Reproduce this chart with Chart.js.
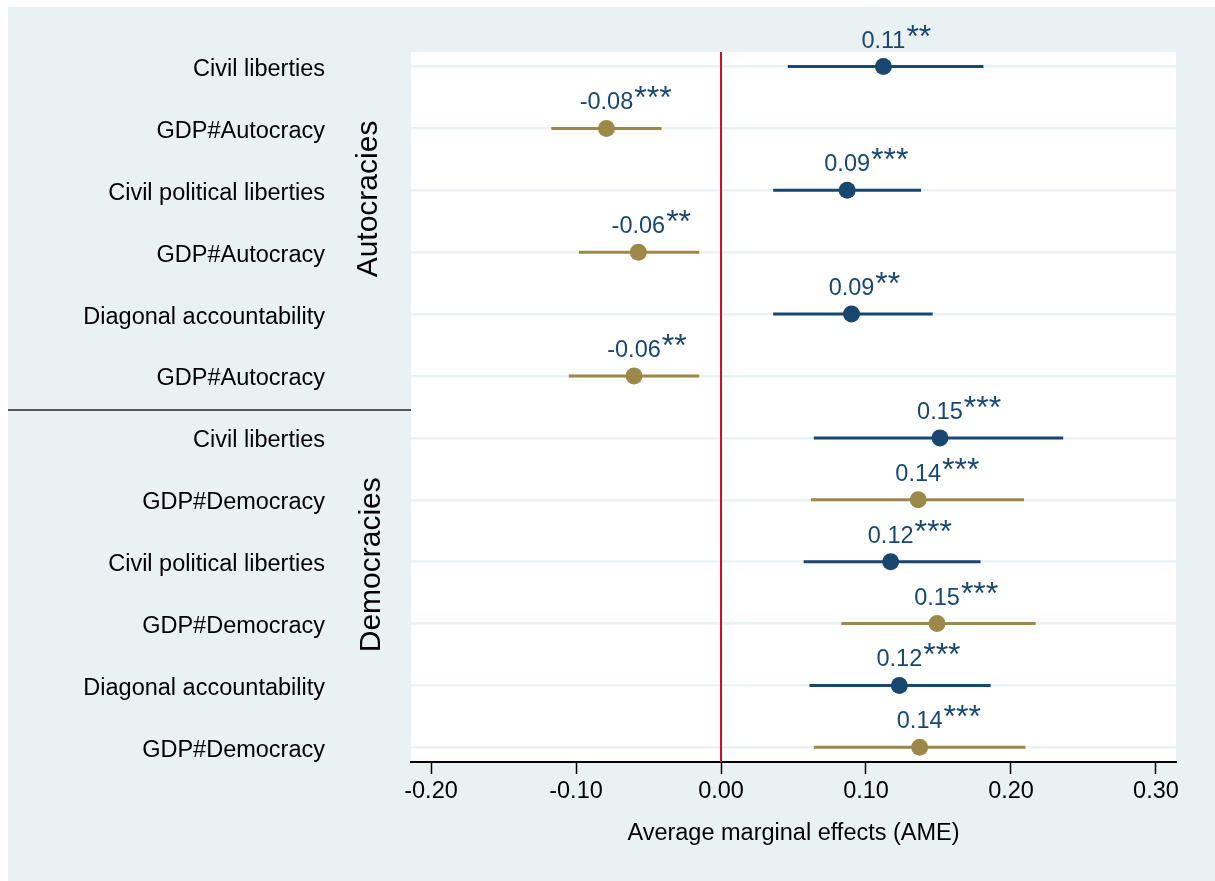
<!DOCTYPE html>
<html>
<head>
<meta charset="utf-8">
<title>Average marginal effects (AME)</title>
<script src="https://cdn.jsdelivr.net/npm/chart.js@4.4.1/dist/chart.umd.min.js"></script>
<style>
  html, body { margin: 0; padding: 0; background: #fff; }
  #chartWrap { width: 1215px; height: 881px; }
</style>
</head>
<body>
<div id="chartWrap"><canvas id="ameChart" width="1215" height="881"></canvas></div>
<script>
// rows, top to bottom
const rowLabels = [
  "Civil liberties",
  "GDP#Autocracy",
  "Civil political liberties",
  "GDP#Autocracy",
  "Diagonal accountability",
  "GDP#Autocracy",
  "Civil liberties",
  "GDP#Democracy",
  "Civil political liberties",
  "GDP#Democracy",
  "Diagonal accountability",
  "GDP#Democracy",
];

const estimates = [0.112, -0.079, 0.087, -0.057, 0.090, -0.060, 0.151, 0.136, 0.117, 0.149, 0.123, 0.137];
const lowerCI = [0.046, -0.117, 0.036, -0.098, 0.036, -0.105, 0.064, 0.062, 0.057, 0.083, 0.061, 0.064];
const upperCI = [0.181, -0.041, 0.138, -0.015, 0.146, -0.015, 0.236, 0.209, 0.179, 0.217, 0.186, 0.210];
const stars = ["**", "***", "***", "**", "**", "**", "***", "***", "***", "***", "***", "***"];
const isInteraction = [false, true, false, true, false, true, false, true, false, true, false, true];

const groupNames = ["Autocracies", "Democracies"];
const xTicks = [-0.2, -0.1, 0, 0.1, 0.2, 0.3];

const NAVY = "#1A476F";
const GOLD = "#9C8848";
const ZERO_RED = "#C8102E";
const BG = "#EAF1F3";
const FONT = '"Liberation Sans", Arial, sans-serif';

const markColor = (i) => (isInteraction[i] ? GOLD : NAVY);

// one small line per row for the confidence interval
const ciDatasets = rowLabels.map((_, i) => ({
  label: "CI " + (i + 1),
  data: [
    { x: lowerCI[i], y: i + 1 },
    { x: upperCI[i], y: i + 1 },
  ],
  showLine: true,
  borderColor: markColor(i),
  borderWidth: 3,
  pointRadius: 0,
  pointHoverRadius: 0,
  order: 2,
}));

const pointDataset = {
  label: "AME",
  data: estimates.map((v, i) => ({ x: v, y: i + 1 })),
  showLine: false,
  pointRadius: 8.5,
  pointHoverRadius: 8.5,
  pointBorderWidth: 0,
  pointBackgroundColor: rowLabels.map((_, i) => markColor(i)),
  order: 1,
};

const overlayPlugin = {
  id: "overlay",
  beforeDraw(chart) {
    const { ctx, chartArea: a, width, height } = chart;
    ctx.save();
    ctx.fillStyle = "#fff";
    ctx.fillRect(0, 0, width, height);
    ctx.fillStyle = BG;
    ctx.fillRect(8, 7, width - 8, height - 7);
    ctx.fillStyle = "#fff";
    ctx.fillRect(a.left, a.top, a.right - a.left, a.bottom - a.top);
    ctx.restore();
  },
  beforeDatasetsDraw(chart) {
    const { ctx, chartArea: a } = chart;
    const x0 = chart.scales.x.getPixelForValue(0);
    ctx.save();
    ctx.strokeStyle = ZERO_RED;
    ctx.lineWidth = 2;
    ctx.beginPath();
    ctx.moveTo(x0, a.top);
    ctx.lineTo(x0, a.bottom);
    ctx.stroke();
    ctx.restore();
  },
  afterDatasetsDraw(chart) {
    const { ctx, chartArea: a } = chart;
    const xs = chart.scales.x;
    const ys = chart.scales.y;
    ctx.save();

    // value labels with significance stars
    ctx.fillStyle = NAVY;
    ctx.textBaseline = "alphabetic";
    estimates.forEach((v, i) => {
      const px = xs.getPixelForValue(v);
      const py = ys.getPixelForValue(i + 1) - 19;
      const txt = v.toFixed(2);
      ctx.font = "23.5px " + FONT;
      ctx.textAlign = "center";
      ctx.fillText(txt, px, py);
      const w = ctx.measureText(txt).width;
      ctx.font = "32px " + FONT;
      ctx.textAlign = "left";
      ctx.fillText(stars[i], px + w / 2 + 1, py - 1);
    });

    // divider between the two groups
    const yDiv = ys.getPixelForValue(6.55);
    ctx.strokeStyle = "#222";
    ctx.lineWidth = 1.5;
    ctx.beginPath();
    ctx.moveTo(8, yDiv);
    ctx.lineTo(a.left, yDiv);
    ctx.stroke();

    // rotated group titles
    ctx.fillStyle = "#000";
    ctx.font = "30px " + FONT;
    ctx.textAlign = "center";
    const centers = [3.14, 9.05];
    const baseX = [377, 380];
    groupNames.forEach((g, k) => {
      ctx.save();
      ctx.translate(baseX[k], ys.getPixelForValue(centers[k]));
      ctx.rotate(-Math.PI / 2);
      ctx.fillText(g, 0, 0);
      ctx.restore();
    });

    ctx.restore();
  },
};

const options = {
  responsive: false,
  animation: false,
  events: [],
  layout: { padding: { top: 52, right: 39, left: 0, bottom: 0 } },
  plugins: {
    legend: { display: false },
    tooltip: { enabled: false },
  },
  scales: {
    x: {
      type: "linear",
      min: -0.2138,
      max: 0.3138,
      afterBuildTicks: (scale) => {
        scale.ticks = xTicks.map((v) => ({ value: v }));
      },
      afterFit: (scale) => {
        scale.height = 119;
        scale.paddingLeft = 0;
        scale.paddingRight = 0;
      },
      ticks: {
        callback: (v) => Number(v).toFixed(2),
        font: { family: FONT, size: 23.5 },
        color: "#000",
        padding: 3,
        maxRotation: 0,
        autoSkip: false,
      },
      grid: {
        drawOnChartArea: false,
        drawTicks: true,
        tickLength: 12,
        tickColor: "#000",
        tickWidth: 1.5,
      },
      border: { display: true, color: "#000", width: 2 },
      title: {
        display: true,
        text: "Average marginal effects (AME)",
        font: { family: FONT, size: 23.5 },
        color: "#000",
        padding: { top: 33, bottom: 33 },
      },
    },
    y: {
      type: "linear",
      reverse: true,
      min: 0.765,
      max: 12.237,
      afterBuildTicks: (scale) => {
        scale.ticks = rowLabels.map((_, i) => ({ value: i + 1 }));
      },
      afterFit: (scale) => {
        scale.width = 411;
        scale.paddingTop = 0;
        scale.paddingBottom = 0;
      },
      ticks: {
        callback: (v, i) => rowLabels[i],
        font: { family: FONT, size: 23.5 },
        color: "#000",
        padding: 86,
        labelOffset: 3,
        autoSkip: false,
      },
      grid: {
        color: "#EAF2F3",
        lineWidth: 2.5,
        drawTicks: false,
      },
      border: { display: false },
    },
  },
};

new Chart(document.getElementById("ameChart").getContext("2d"), {
  type: "scatter",
  data: { datasets: [...ciDatasets, pointDataset] },
  options,
  plugins: [overlayPlugin],
});
</script>
</body>
</html>
